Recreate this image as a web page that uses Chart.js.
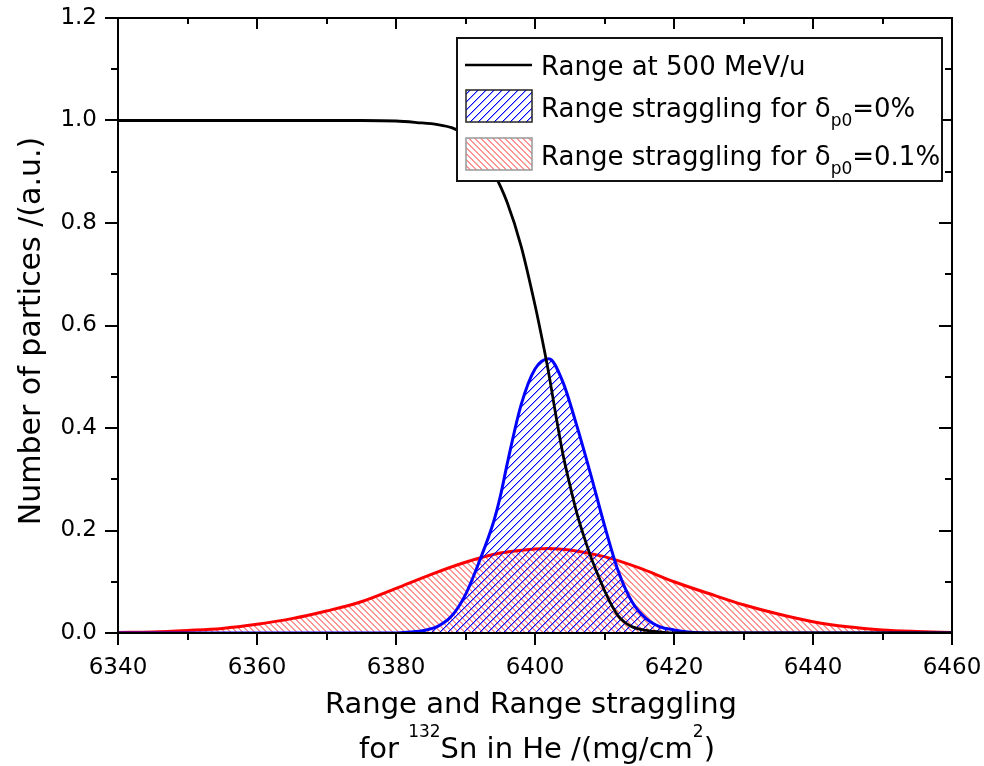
<!DOCTYPE html>
<html>
<head>
<meta charset="utf-8">
<script src="https://cdn.jsdelivr.net/npm/chart.js@4.4.1/dist/chart.umd.min.js"></script>
<style>
  html, body { margin: 0; padding: 0; background: #fff; }
  #wrap { width: 984px; height: 766px; }
</style>
</head>
<body>
<div id="wrap"><canvas id="c" width="984" height="766"></canvas></div>
<script>
// range curve at 500 MeV/u
const rangeX = [6340, 6360, 6375, 6380, 6383, 6386, 6388, 6390, 6392, 6394, 6396, 6398, 6400, 6401, 6402, 6403, 6404, 6405, 6406, 6407, 6408, 6409, 6410, 6411, 6412, 6413, 6414, 6416, 6418, 6420, 6460];
const rangeY = [1.0, 1.0, 1.0, 0.999, 0.996, 0.992, 0.986, 0.972, 0.945, 0.90, 0.84, 0.755, 0.64, 0.575, 0.505, 0.425, 0.35, 0.29, 0.235, 0.19, 0.15, 0.115, 0.083, 0.055, 0.033, 0.02, 0.012, 0.005, 0.002, 0.0, 0.0];

// straggling, dp0 = 0%
const strag0X = [6340, 6380, 6382, 6384, 6386, 6388, 6390, 6392, 6394, 6395, 6396, 6398, 6400, 6402, 6404, 6406, 6408, 6410, 6412, 6414, 6416, 6418, 6420, 6422, 6426, 6460];
const strag0Y = [0, 0, 0.002, 0.005, 0.013, 0.033, 0.075, 0.14, 0.215, 0.266, 0.33, 0.445, 0.515, 0.535, 0.49, 0.405, 0.31, 0.21, 0.12, 0.06, 0.028, 0.012, 0.006, 0.002, 0, 0];

// straggling, dp0 = 0.1%
const strag1X = [6340, 6345, 6350, 6355, 6360, 6365, 6370, 6375, 6380, 6385, 6390, 6395, 6400, 6402, 6405, 6410, 6415, 6420, 6425, 6430, 6435, 6440, 6445, 6450, 6455, 6460];
const strag1Y = [0.001, 0.002, 0.005, 0.009, 0.017, 0.028, 0.043, 0.061, 0.087, 0.114, 0.138, 0.156, 0.164, 0.165, 0.162, 0.149, 0.127, 0.10, 0.077, 0.055, 0.037, 0.022, 0.012, 0.006, 0.003, 0.001];

const FONT = "'DejaVu Sans', sans-serif";

function pts(xs, ys) {
  return xs.map((x, i) => ({ x: x, y: ys[i] }));
}

const canvas = document.getElementById('c');
const ctx = canvas.getContext('2d');

// pixel-stepped diagonal hatch tile: dir 1 = '/', dir -1 = '\'
// edge: colour of the extra pixel next to each step (softens the line)
function hatchTile(color, size, dir, edge) {
  const t = document.createElement('canvas');
  t.width = size;
  t.height = size;
  const g = t.getContext('2d');
  for (let i = 0; i < size; i++) {
    const y = dir > 0 ? size - 1 - i : i;
    g.fillStyle = color;
    g.fillRect(i, y, 1, 1);
    if (edge) {
      g.fillStyle = edge;
      g.fillRect((i + 1) % size, y, 1, 1);
    }
  }
  return t;
}

const blueHatch = ctx.createPattern(hatchTile('#0000ff', 8, 1, 'rgba(40,40,255,0.45)'), 'repeat');
const redHatch = ctx.createPattern(hatchTile('rgba(255,60,60,0.55)', 6, -1, 'rgba(255,60,60,0.55)'), 'repeat');

// draw a row of text pieces with different sizes / offsets
function drawRuns(c, x, y, runs, align) {
  let total = 0;
  runs.forEach(r => {
    c.font = r.size + 'px ' + FONT;
    r.w = c.measureText(r.t).width;
    total += r.w;
  });
  let cx = align === 'center' ? x - total / 2 : x;
  runs.forEach(r => {
    c.font = r.size + 'px ' + FONT;
    c.fillText(r.t, cx, y + (r.dy || 0));
    cx += r.w;
  });
}

const decorations = {
  id: 'decorations',
  afterDraw(chart) {
    const c = chart.ctx;
    const xs = chart.scales.x;
    const ys = chart.scales.y;
    const a = chart.chartArea;
    c.save();

    // frame
    c.strokeStyle = '#000';
    c.lineWidth = 2;
    c.strokeRect(a.left, a.top, a.right - a.left, a.bottom - a.top);

    // tick marks: outward on bottom/left, inward on top/right
    c.beginPath();
    for (let v = 6340; v <= 6460; v += 10) {
      const px = Math.round(xs.getPixelForValue(v));
      const major = (v - 6340) % 20 === 0;
      c.moveTo(px, a.bottom); c.lineTo(px, a.bottom + (major ? 12 : 7));
      c.moveTo(px, a.top); c.lineTo(px, a.top + (major ? 11 : 6));
    }
    for (let i = 0; i <= 12; i++) {
      const py = Math.round(ys.getPixelForValue(i / 10));
      const major = i % 2 === 0;
      c.moveTo(a.left, py); c.lineTo(a.left - (major ? 13 : 7), py);
      c.moveTo(a.right, py); c.lineTo(a.right - (major ? 13 : 7), py);
    }
    c.stroke();

    // legend
    const lx = 457, ly = 38, lw = 485, lh = 143;
    c.fillStyle = '#fff';
    c.fillRect(lx, ly, lw, lh);
    c.strokeStyle = '#111';
    c.lineWidth = 2;
    c.strokeRect(lx, ly, lw, lh);

    c.strokeStyle = '#000';
    c.lineWidth = 2.5;
    c.beginPath();
    c.moveTo(465, 65); c.lineTo(532, 65);
    c.stroke();

    c.fillStyle = blueHatch;
    c.fillRect(466, 90, 66, 32);
    c.strokeStyle = '#222';
    c.lineWidth = 1.5;
    c.strokeRect(466, 90, 66, 32);

    c.fillStyle = redHatch;
    c.fillRect(466, 138, 66, 32);
    c.strokeStyle = '#999';
    c.strokeRect(466, 138, 66, 32);

    c.fillStyle = '#000';
    c.textBaseline = 'alphabetic';
    c.textAlign = 'left';
    drawRuns(c, 541, 75, [{ t: 'Range at 500 MeV/u', size: 26 }]);
    drawRuns(c, 541, 117, [
      { t: 'Range straggling for δ', size: 26 },
      { t: 'p0', size: 17, dy: 9 },
      { t: '=0%', size: 26 }
    ]);
    drawRuns(c, 541, 165, [
      { t: 'Range straggling for δ', size: 26 },
      { t: 'p0', size: 17, dy: 9 },
      { t: '=0.1%', size: 26 }
    ]);

    // axis titles
    const mid = (a.left + a.right) / 2;
    drawRuns(c, mid - 4, 713, [{ t: 'Range and Range straggling', size: 29 }], 'center');
    drawRuns(c, mid + 2, 758, [
      { t: 'for ', size: 29 },
      { t: '132', size: 17, dy: -21 },
      { t: 'Sn in He /(mg/cm', size: 29 },
      { t: '2', size: 17, dy: -21 },
      { t: ')', size: 29 }
    ], 'center');

    c.translate(40, 331);
    c.rotate(-Math.PI / 2);
    drawRuns(c, 0, 0, [{ t: 'Number of partices /(a.u.)', size: 30 }], 'center');
    c.restore();
  }
};

new Chart(ctx, {
  type: 'line',
  data: {
    datasets: [
      {
        label: 'Range at 500 MeV/u',
        data: pts(rangeX, rangeY),
        borderColor: '#000',
        borderWidth: 2.8,
        fill: false,
        pointRadius: 0,
        cubicInterpolationMode: 'monotone'
      },
      {
        label: 'Range straggling for δp0=0%',
        data: pts(strag0X, strag0Y),
        borderColor: '#0000ff',
        borderWidth: 3,
        backgroundColor: blueHatch,
        fill: 'origin',
        pointRadius: 0,
        cubicInterpolationMode: 'monotone'
      },
      {
        label: 'Range straggling for δp0=0.1%',
        data: pts(strag1X, strag1Y),
        borderColor: '#ff0000',
        borderWidth: 3,
        backgroundColor: redHatch,
        fill: 'origin',
        pointRadius: 0,
        cubicInterpolationMode: 'monotone'
      }
    ]
  },
  options: {
    responsive: false,
    animation: false,
    layout: { padding: { left: 0, top: 18, right: 32, bottom: 0 } },
    plugins: {
      legend: { display: false },
      tooltip: { enabled: false }
    },
    scales: {
      x: {
        type: 'linear',
        min: 6340,
        max: 6460,
        grid: { display: false, drawTicks: false },
        border: { display: false },
        ticks: {
          stepSize: 20,
          padding: 21,
          color: '#000',
          font: { family: FONT, size: 23 },
          maxRotation: 0,
          callback: v => String(v)
        },
        afterFit(scale) {
          scale.height = 133;
          scale.paddingLeft = 0;
          scale.paddingRight = 0;
        }
      },
      y: {
        min: 0,
        max: 1.2,
        grid: { display: false, drawTicks: false },
        border: { display: false },
        ticks: {
          stepSize: 0.2,
          padding: 21,
          color: '#000',
          font: { family: FONT, size: 23 },
          callback: v => v.toFixed(1)
        },
        afterFit(scale) {
          scale.width = 118;
          scale.paddingTop = 0;
          scale.paddingBottom = 0;
        }
      }
    }
  },
  plugins: [decorations]
});
</script>
</body>
</html>
